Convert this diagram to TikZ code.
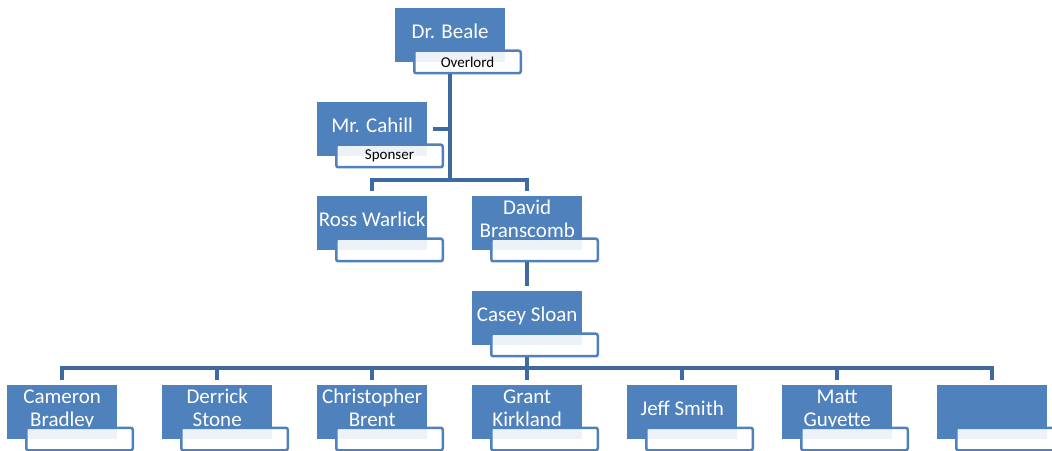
\documentclass[tikz,border=0pt]{standalone}
\usepackage{fontspec}
\setmainfont{Carlito}
\usepackage{tikz}
\usetikzlibrary{positioning}
\definecolor{boxBlue}{RGB}{79,129,189}
\definecolor{linkBlue}{RGB}{62,106,160}

\begin{document}
\begin{tikzpicture}[x=1pt, y=1pt,
    personBox/.style={rectangle, fill=boxBlue, minimum width=110pt, minimum height=54pt, inner sep=0pt, anchor=north west},
    personName/.style={text=white, font=\fontsize{21}{23}\selectfont, align=center, inner sep=0pt, text depth=5pt},
    roleTag/.style={rectangle, rounded corners=2pt, draw=boxBlue, line width=2.5pt, fill=white, fill opacity=0.9, text opacity=1,
        minimum width=106.5pt, minimum height=22.5pt, inner sep=0pt, font=\fontsize{15}{17}\selectfont},
    link/.style={draw=linkBlue, line width=4.5pt}]
    \useasboundingbox (0,0) rectangle (1052,450);
    % top of the chart
    \node[personBox] (beale) at (395,442) {};
    \node[personName] (bealeName) at ([yshift=1.5pt]beale.center) {Dr. Beale};
    \node[roleTag, below right=41.5pt and 18pt of beale.north west] (bealeTag) {Overlord};
    \node[personBox] (cahill) at (317,348) {};
    \node[personName] (cahillName) at ([yshift=1.5pt]cahill.center) {Mr. Cahill};
    \node[roleTag, below right=41.5pt and 18pt of cahill.north west] (cahillTag) {Sponser};
    \node[personBox] (ross) at (317,254) {};
    \node[personName] (rossName) at ([yshift=1.5pt]ross.center) {Ross Warlick};
    \node[roleTag, below right=41.5pt and 18pt of ross.north west] (rossTag) {};
    \node[personBox] (david) at (472,254) {};
    \node[personName] (davidName) at ([yshift=1.5pt]david.center) {David\\Branscomb};
    \node[roleTag, below right=41.5pt and 18pt of david.north west] (davidTag) {};
    \node[personBox] (casey) at (472,159) {};
    \node[personName] (caseyName) at ([yshift=1.5pt]casey.center) {Casey Sloan};
    \node[roleTag, below right=41.5pt and 18pt of casey.north west] (caseyTag) {};
    \coordinate (bealeSplit) at (beale.center |- 0,270);
    \coordinate (teamSplit) at (casey.center |- 0,82);
    \draw[link] (beale.center |- bealeTag.south) -- (bealeSplit);
    \draw[link] ([xshift=6pt]cahill.east) -- (cahill.east -| bealeSplit);
    \draw[link] ([yshift=5pt]ross.north) |- (bealeSplit) -| ([yshift=5pt]david.north);
    \draw[link] (david.center |- davidTag.south) -- ([yshift=5pt]casey.north);
    \draw[link] (casey.center |- caseyTag.south) -- (teamSplit);
    % team row
    \foreach \i/\x/\who in {1/7/{Cameron\\Bradley}, 2/162/{Derrick\\Stone}, 3/317/{Christopher\\Brent},
        4/472/{Grant\\Kirkland}, 5/627/{Jeff Smith}, 6/782/{Matt\\Guyette}, 7/937/{}} {
        \node[personBox] (member\i) at (\x,65) {};
        \node[personName] (memberName\i) at ([yshift=1.5pt]member\i.center) {\who};
        \node[roleTag, below right=41.5pt and 18pt of member\i.north west] (memberTag\i) {};
        \draw[link] ([yshift=5pt]member\i.north) |- (teamSplit);
    }
\end{tikzpicture}
\end{document}
